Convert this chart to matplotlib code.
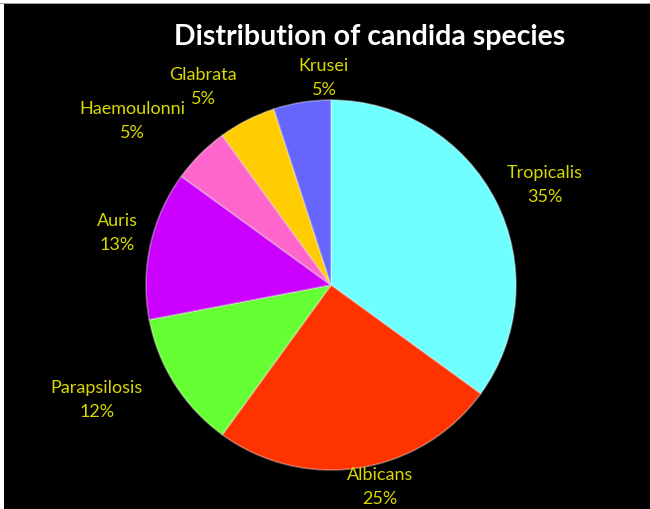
import matplotlib
matplotlib.use("Agg")
import matplotlib.pyplot as plt
from matplotlib.patches import Rectangle

species = ["Tropicalis", "Albicans", "Parapsilosis", "Auris", "Haemoulonni", "Glabrata", "Krusei"]
percent = [35, 25, 12, 13, 5, 5, 5]
colors = ["#6FFFFF", "#FF3300", "#66FF33", "#CC00FF", "#FF66CC", "#FFCC00", "#6666FF"]

# label centre positions in pixels (reference image coordinates)
label_px = {
    "Tropicalis": (545, 185),
    "Albicans": (380, 487),
    "Parapsilosis": (97, 400),
    "Auris": (117, 233),
    "Haemoulonni": (132, 121),
    "Glabrata": (203, 87),
    "Krusei": (324, 78),
}

W, H = 650, 510
cx, cy, R = 331, 286, 185

fig = plt.figure(figsize=(6.5, 5.1), dpi=100, facecolor="white")
fig.patches.append(Rectangle((4 / W, 0), 1 - 4 / W, (H - 5) / H, transform=fig.transFigure,
                             facecolor="black", edgecolor="none", zorder=-10))
fig.patches.append(Rectangle((0, (H - 5) / H), 1, 1 / H, transform=fig.transFigure,
                             facecolor="#A0A0A0", edgecolor="none", zorder=-10))

ax = fig.add_axes([(cx - R) / W, (H - cy - R) / H, 2 * R / W, 2 * R / H])
ax.set_zorder(5)
ax.set_facecolor("none")
wedges, _ = ax.pie(percent, colors=colors, startangle=90, counterclock=False, radius=1,
                   wedgeprops=dict(edgecolor=(1, 1, 1, 0.35), linewidth=1.2))
ax.set_xlim(-1, 1)
ax.set_ylim(-1, 1)
ax.set_aspect("equal")
ax.axis("off")

for name, p in zip(species, percent):
    px, py = label_px[name]
    ax.text((px - cx) / R, (cy - py) / R, f"{name}\n{p}%", ha="center", va="center",
            color="#D8D800", fontsize=13, family="Lato", linespacing=1.6)

fig.text(370 / W, 1 - 37 / H, "Distribution of candida species", ha="center", va="center",
         color="white", fontsize=20.5, fontweight="bold", family="Lato", zorder=10)

fig.savefig("out.png", dpi=100, facecolor=fig.get_facecolor())
